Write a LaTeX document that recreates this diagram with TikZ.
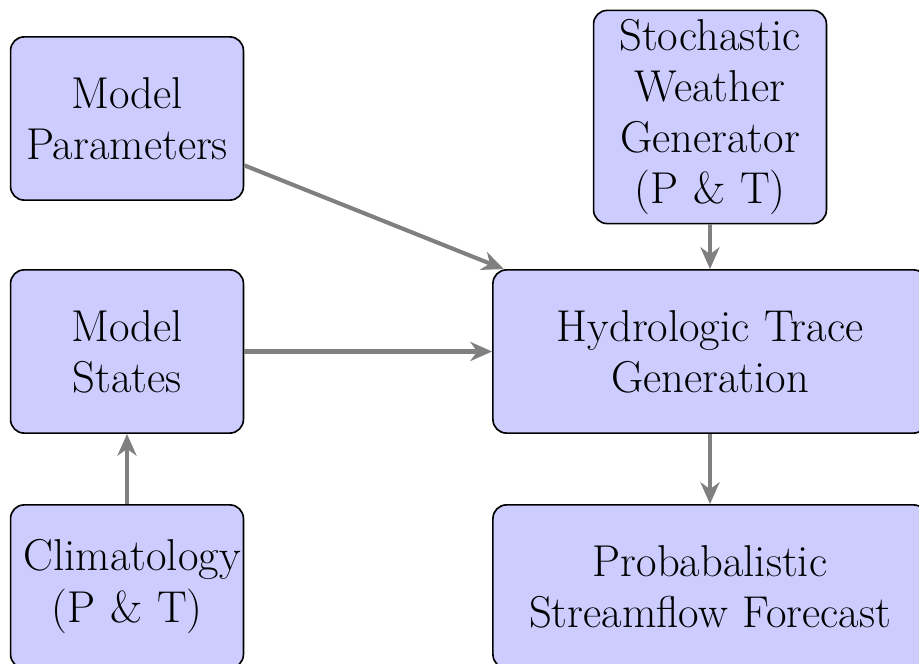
\documentclass[tikz,border=0pt]{standalone}
\usepackage{amsmath,amssymb}
\usepackage{tikz}
\usetikzlibrary{arrows.meta}

\begin{document}
\begin{tikzpicture}[x=0.3676pt, y=-0.3676pt, every node/.style={font=\fontsize{16.4}{18.8}\selectfont}, blk/.style={draw, line width=0.6pt, fill=blue!20, rounded corners=5pt, text width=76pt, align=center, inner xsep=4.8pt, inner ysep=3.2pt, minimum height=60pt}, ln/.style={draw=gray, line width=1.5pt, -{Stealth[length=8pt, width=7pt, inset=2.5pt]}}]
	\useasboundingbox (0,0) rectangle (919,664);
	\node[blk] (par) at (127,118.5) {Model\\ Parameters};
	\node[blk] (gen) at (710,117) {Stochastic\\ Weather\\ Generator\\ (P \& T)};
	\node[blk] (states) at (127,351.5) {Model\\ States};
	\node[blk, text width=150pt] (trace) at (710,351.5) {Hydrologic Trace\\ Generation};
	\node[blk] (clim) at (127,586.5) {Climatology\\ (P \& T)};
	\node[blk, text width=150pt] (fcst) at (710,586.5) {Probabalistic\\ Streamflow Forecast};
	\draw[ln] (par) -- (trace);
	\draw[ln] (gen) -- (trace);
	\draw[ln] (states) -- (trace);
	\draw[ln] (clim) -- (states);
	\draw[ln] (trace) -- (fcst);
	\end{tikzpicture}
\end{document}
